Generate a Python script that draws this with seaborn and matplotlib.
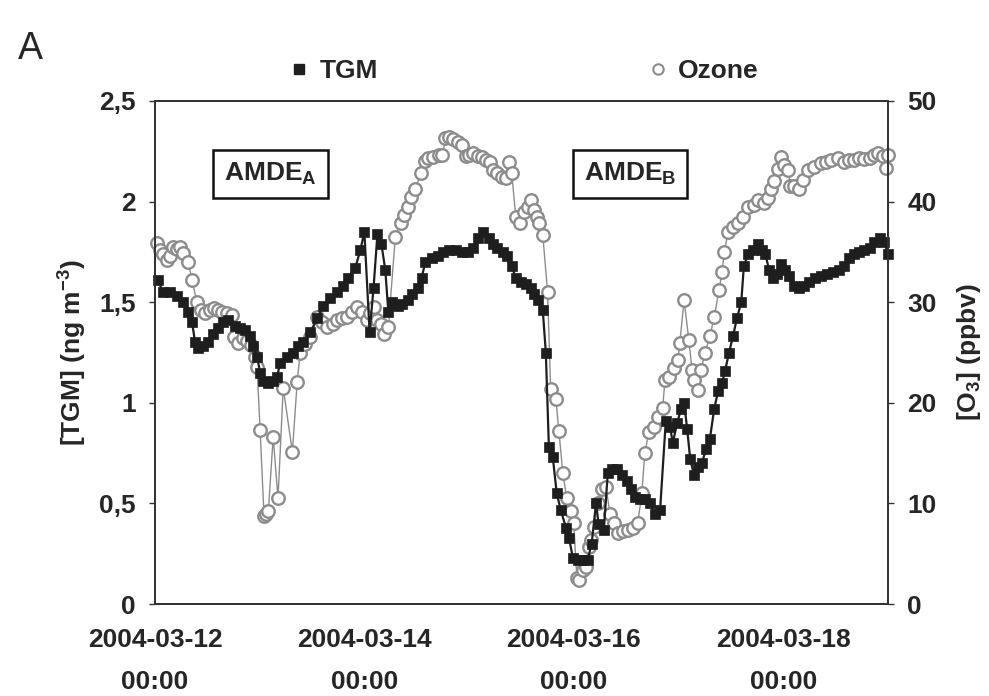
import numpy as np
import pandas as pd
import matplotlib
matplotlib.use("Agg")
import matplotlib.pyplot as plt
import matplotlib.dates as mdates
from matplotlib.lines import Line2D
from matplotlib.ticker import FuncFormatter, MultipleLocator
import seaborn as sns

# ---- data: hours since 2004-03-12 00:00 and measured values ----
tgm_hours = [0.7, 1.8, 3.4, 5.1, 6.4, 7.6, 8.5, 9.2, 9.9, 11.0, 12.2, 13.3, 14.5, 15.6,
             16.8, 18.4, 19.5, 20.7, 21.8, 22.5, 23.4, 24.1, 24.8, 26.0, 27.1, 28.0,
             28.7, 30.3, 31.7, 32.8, 33.9, 35.6, 37.2, 38.6, 40.2, 41.8, 43.2, 44.3,
             45.9, 47.1, 48.0, 49.2, 50.1, 51.0, 51.9, 52.8, 53.5, 54.4, 55.6, 56.7,
             57.9, 59.0, 60.2, 61.1, 62.0, 63.4, 64.8, 66.1, 67.5, 68.9, 70.3, 71.7,
             72.8, 74.0, 75.3, 76.5, 77.6, 78.5, 79.7, 80.8, 81.8, 82.7, 83.8, 85.0,
             86.1, 87.0, 87.9, 88.9, 89.6, 90.3, 91.2, 92.1, 93.0, 94.2, 94.9, 95.8,
             97.0, 98.1, 99.2, 100.1, 101.1, 101.7, 102.9, 103.8, 104.7, 105.9, 107.0,
             108.2, 109.1, 110.0, 111.2, 112.3, 113.5, 114.6, 115.8, 117.1, 118.1,
             118.7, 119.7, 120.6, 121.3, 122.0, 122.7, 123.6, 124.5, 125.4, 126.3,
             127.2, 128.2, 129.1, 130.0, 130.7, 131.6, 132.5, 133.4, 134.4, 135.0,
             136.0, 137.1, 138.3, 139.2, 139.9, 140.8, 141.7, 142.6, 143.5, 144.5,
             145.4, 146.5, 147.7, 148.8, 150.0, 151.4, 152.7, 154.1, 155.5, 156.9,
             158.0, 159.2, 160.3, 161.5, 162.6, 163.8, 164.9, 166.1, 167.2, 168.0]
tgm_values = [1.61, 1.55, 1.55, 1.53, 1.50, 1.45, 1.40, 1.30, 1.27, 1.28, 1.30, 1.34, 1.37, 1.40,
              1.41, 1.38, 1.37, 1.36, 1.33, 1.28, 1.23, 1.15, 1.11, 1.10, 1.11, 1.13,
              1.20, 1.23, 1.25, 1.28, 1.30, 1.35, 1.42, 1.48, 1.52, 1.55, 1.58, 1.62,
              1.67, 1.76, 1.85, 1.35, 1.57, 1.84, 1.79, 1.66, 1.45, 1.50, 1.48, 1.49,
              1.51, 1.54, 1.57, 1.62, 1.70, 1.72, 1.73, 1.75, 1.76, 1.76, 1.75, 1.75,
              1.77, 1.82, 1.85, 1.82, 1.79, 1.77, 1.75, 1.73, 1.68, 1.62, 1.60, 1.59,
              1.57, 1.54, 1.51, 1.46, 1.25, 0.78, 0.73, 0.55, 0.47, 0.38, 0.33, 0.23,
              0.22, 0.22, 0.22, 0.30, 0.50, 0.40, 0.37, 0.65, 0.67, 0.67, 0.64,
              0.61, 0.57, 0.53, 0.52, 0.52, 0.50, 0.45, 0.47, 0.91, 0.88,
              0.80, 0.90, 0.97, 1.00, 0.87, 0.72, 0.64, 0.68, 0.70, 0.77,
              0.82, 0.97, 1.06, 1.10, 1.16, 1.25, 1.33, 1.42, 1.50, 1.68,
              1.74, 1.76, 1.79, 1.76, 1.74, 1.66, 1.62, 1.64, 1.69, 1.66,
              1.63, 1.58, 1.57, 1.58, 1.60, 1.62, 1.63, 1.64, 1.65, 1.66,
              1.68, 1.72, 1.74, 1.75, 1.76, 1.77, 1.80, 1.82, 1.80, 1.74]

ozone_hours = [0.5, 1.1, 1.8, 2.8, 3.4, 4.1, 5.1, 5.7, 6.4, 7.6, 8.5, 9.6, 10.6, 11.5, 12.6,
               13.6, 14.5, 15.4, 16.5, 17.7, 18.1, 19.1, 20.2, 21.1, 22.0, 23.0, 23.4,
               24.1, 25.0, 25.5, 26.0, 27.1, 28.2, 29.4, 31.5, 32.6, 33.3, 34.5, 35.6,
               37.2, 38.4, 39.5, 40.7, 41.8, 42.9, 44.1, 45.2, 46.4, 47.5, 48.7, 49.4,
               50.1, 51.0, 51.7, 52.4, 53.5, 55.1, 56.3, 57.2, 58.1, 58.8, 59.7, 60.9,
               61.8, 62.7, 63.8, 65.0, 65.9, 66.6, 67.5, 68.4, 69.4, 70.3, 71.2, 72.1,
               73.0, 74.0, 74.9, 75.8, 76.7, 77.6, 78.5, 79.5, 80.4, 81.1, 81.8, 82.7,
               83.6, 84.5, 85.4, 86.1, 86.8, 87.5, 88.0, 88.9, 90.0, 90.7, 91.9, 92.6,
               93.5, 94.4, 95.3, 96.0, 96.7, 97.2, 98.1, 98.8, 99.4, 99.9, 100.6, 101.5,
               102.4, 103.4, 104.3, 105.2, 106.1, 107.3, 108.4, 109.6, 110.7, 111.6,
               112.3, 113.2, 114.4, 115.3, 116.4, 116.9, 117.8, 119.0, 119.9, 120.3,
               121.3, 122.4, 123.1, 123.6, 124.5, 125.2, 126.1, 127.2, 128.2, 129.3,
               130.0, 130.5, 131.4, 132.5, 133.7, 134.8, 136.0, 137.3, 138.3, 139.6,
               140.6, 141.2, 141.9, 142.9, 143.5, 144.2, 145.2, 145.6, 146.5, 147.7,
               148.6, 149.7, 151.1, 152.7, 153.9, 155.0, 156.6, 158.0, 159.2, 160.3,
               161.5, 162.6, 163.8, 164.9, 165.8, 166.8, 167.5, 168.0]
ozone_values = [35.9, 35.2, 34.8, 34.2, 34.6, 35.5, 35.3, 35.5, 34.9, 34.0, 32.2, 30.0, 29.2, 28.9, 29.2,
                29.4, 29.2, 29.0, 28.9, 28.7, 26.5, 25.9, 26.4, 26.1, 25.7, 24.6, 23.6,
                17.3, 8.8, 9.0, 9.3, 16.6, 10.5, 21.5, 15.1, 22.1, 25.0, 25.8, 26.5,
                28.5, 28.0, 27.5, 27.8, 28.2, 28.4, 28.5, 29.0, 29.5, 29.0, 28.2, 28.9,
                29.5, 28.2, 27.8, 26.8, 27.5, 36.5, 37.9, 38.7, 39.5, 40.5, 41.2, 42.8,
                44.0, 44.3, 44.4, 44.6, 44.6, 46.3, 46.4, 46.2, 45.9, 45.6, 44.5, 44.6,
                44.8, 44.5, 44.4, 44.1, 43.9, 43.1, 42.8, 42.4, 42.3, 43.9, 42.8, 38.5,
                37.9, 39.0, 39.5, 40.2, 39.2, 38.5, 37.9, 36.7, 31.0, 21.4, 20.4, 17.2,
                13.0, 10.5, 9.3, 8.1, 2.6, 2.4, 3.4, 3.7, 5.7, 6.4, 7.7, 10.0,
                11.4, 11.6, 9.0, 8.1, 7.1, 7.3, 7.4, 7.6, 8.1, 11.0,
                15.0, 17.1, 17.6, 18.6, 19.5, 22.3, 22.6, 23.5, 24.3, 25.9,
                30.2, 26.2, 23.3, 22.3, 21.3, 23.3, 25.0, 26.6, 28.5, 31.2,
                33.0, 35.0, 37.0, 37.5, 37.9, 38.5, 39.5, 39.7, 40.2, 39.9,
                40.4, 41.2, 42.0, 43.2, 44.4, 43.6, 43.1, 41.5, 41.5, 41.2,
                42.1, 43.1, 43.4, 43.8, 43.9, 44.1, 44.3, 43.9, 44.1, 44.1,
                44.3, 44.2, 44.3, 44.6, 44.8, 44.5, 43.3, 44.6]

start = pd.Timestamp("2004-03-12 00:00")
tick_dates = ["2004-03-12", "2004-03-14", "2004-03-16", "2004-03-18"]

tgm_df = pd.DataFrame({"time": start + pd.to_timedelta(tgm_hours, unit="h"),
                       "TGM": tgm_values})
o3_df = pd.DataFrame({"time": start + pd.to_timedelta(ozone_hours, unit="h"),
                      "Ozone": ozone_values})

# ---- style ----
sns.set_style("white")
plt.rcParams["font.family"] = ["Liberation Sans", "DejaVu Sans"]
plt.rcParams["mathtext.fontset"] = "custom"
plt.rcParams["mathtext.rm"] = "Liberation Sans:bold"
plt.rcParams["mathtext.bf"] = "Liberation Sans:bold"
plt.rcParams["mathtext.it"] = "Liberation Sans:bold"

tgm_color = "#1e1e1e"
o3_color = "#8c8c8c"
fs = 19

fig = plt.figure(figsize=(9.89, 6.96), dpi=100)
ax = fig.add_axes([0.1567, 0.132, 0.741, 0.723])
ax2 = ax.twinx()

sns.lineplot(data=o3_df, x="time", y="Ozone", ax=ax2, color=o3_color, lw=1.0,
             marker="o", markersize=9, markerfacecolor="white",
             markeredgecolor=o3_color, markeredgewidth=1.7, clip_on=False)
sns.lineplot(data=tgm_df, x="time", y="TGM", ax=ax, color=tgm_color, lw=1.6,
             marker="s", markersize=7.2, markerfacecolor=tgm_color,
             markeredgecolor=tgm_color, markeredgewidth=0.5, clip_on=False)

# TGM above ozone
ax.set_zorder(ax2.get_zorder() + 1)
ax.patch.set_visible(False)

x0 = start
x1 = start + pd.Timedelta(days=7)
ax.set_xlim(x0, x1)
ax.set_ylim(0, 2.5)
ax2.set_ylim(0, 50)

ax.set_xticks([pd.Timestamp(d) for d in tick_dates])
ax.xaxis.set_major_formatter(mdates.DateFormatter("%Y-%m-%d\n%H:%M"))
ax.yaxis.set_major_locator(MultipleLocator(0.5))
ax.yaxis.set_major_formatter(FuncFormatter(lambda v, p: f"{v:g}".replace(".", ",")))
ax2.yaxis.set_major_locator(MultipleLocator(10))

for a in (ax, ax2):
    a.tick_params(axis="both", which="major", labelsize=fs, length=4, width=1.0,
                  direction="out", color="#333333")
    for s in a.spines.values():
        s.set_color("#333333")
        s.set_linewidth(1.3)
ax.tick_params(axis="x", pad=13)
ax.tick_params(axis="y", pad=10)
ax2.tick_params(axis="y", pad=10)

fig.canvas.draw()
for a in (ax, ax2):
    for lab in a.get_xticklabels() + a.get_yticklabels():
        lab.set_fontweight("bold")
for lab in ax.get_xticklabels():
    lab.set_linespacing(1.95)

ax.set_xlabel("")
ax.set_ylabel(r"[TGM] (ng m$^{-3}$)", fontsize=fs, fontweight="bold", labelpad=7)
ax2.set_ylabel(r"[O$_{3}$] (ppbv)", fontsize=fs, fontweight="bold", labelpad=13)

# event labels
box = dict(boxstyle="square,pad=0.42", fc="white", ec="#111111", lw=1.8)
ax.text(0.158, 0.855, r"AMDE$_{A}$", transform=ax.transAxes, ha="center", va="center",
        fontsize=fs, fontweight="bold", bbox=box)
ax.text(0.648, 0.855, r"AMDE$_{B}$", transform=ax.transAxes, ha="center", va="center",
        fontsize=fs, fontweight="bold", bbox=box)

# legend above the plot
handles = [Line2D([], [], ls="none", marker="s", markersize=6.5, color=tgm_color),
           Line2D([], [], ls="none", marker="o", markersize=7.5, markerfacecolor="white",
                  markeredgecolor=o3_color, markeredgewidth=1.5)]
fig.legend(handles, ["TGM", "Ozone"], ncol=2, loc="center left",
           bbox_to_anchor=(0.268, 0.898), frameon=False, handlelength=0.8,
           handletextpad=0.36, columnspacing=10.2,
           prop={"weight": "bold", "size": fs})

fig.text(0.018, 0.93, "A", fontsize=27, ha="left", va="center")

fig.savefig("out.png", dpi=100)
